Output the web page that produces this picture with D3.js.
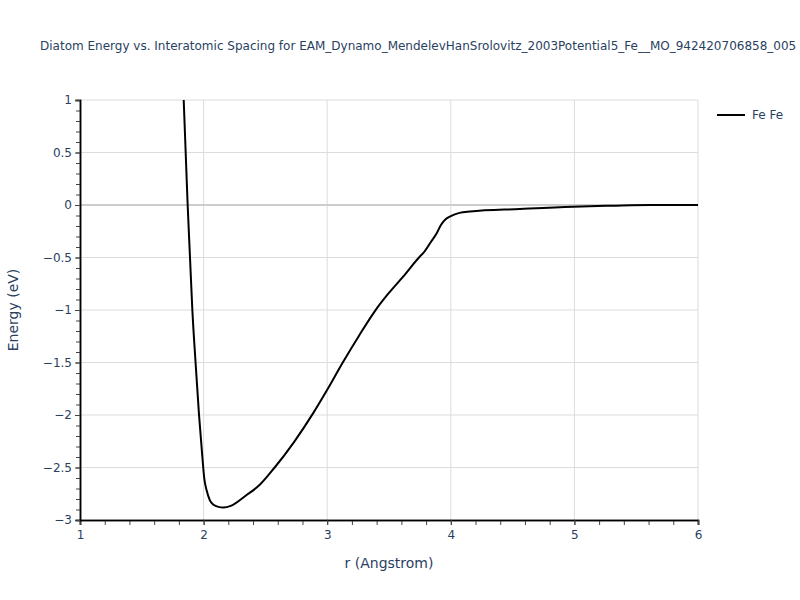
<!DOCTYPE html>
<html>
<head>
<meta charset="utf-8">
<script src="https://cdn.jsdelivr.net/npm/d3@7"></script>
<style>
  body { margin: 0; background: #fff; }
  svg { display: block; font-family: "DejaVu Sans", Verdana, sans-serif; }
</style>
</head>
<body>
<div id="chart"></div>
<script>
const titleText = "Diatom Energy vs. Interatomic Spacing for EAM_Dynamo_MendelevHanSrolovitz_2003Potential5_Fe__MO_942420706858_005";
const seriesName = "Fe Fe";
const rValues = [1.80, 1.839, 1.855, 1.871, 1.89, 1.909, 1.935, 1.963, 1.99, 2.005, 2.025, 2.05, 2.08, 2.12, 2.16, 2.22, 2.35, 2.45, 2.575, 2.73, 2.888, 3.0, 3.126, 3.26, 3.386, 3.494, 3.616, 3.75, 3.78, 3.84, 3.886, 3.92, 3.96, 4.0, 4.07, 4.155, 4.56, 4.99, 5.3, 5.61, 6.0];
const energyValues = [2.3, 1.0, 0.5, 0.0, -0.5, -1.0, -1.5, -2.0, -2.4, -2.6, -2.72, -2.81, -2.855, -2.875, -2.88, -2.865, -2.76, -2.67, -2.50, -2.26, -1.98, -1.76, -1.50, -1.24, -1.01, -0.845, -0.68, -0.49, -0.454, -0.35, -0.27, -0.19, -0.133, -0.105, -0.075, -0.062, -0.038, -0.016, -0.007, 0.0, 0.0];
const xTicks = [1, 2, 3, 4, 5, 6];
const yTicks = [1, 0.5, 0, -0.5, -1, -1.5, -2, -2.5, -3];
const xDomain = [1, 6];
const yDomain = [-3, 1];

const W = 800, H = 600;
const M = { left: 80, right: 102, top: 100, bottom: 80 };
const textColor = "#2a3f5f";
const FONT = "'DejaVu Sans', Verdana, sans-serif";

const svg = d3.select("#chart").append("svg").attr("width", W).attr("height", H);

const x = d3.scaleLinear().domain(xDomain).range([M.left, W - M.right]);
const y = d3.scaleLinear().domain(yDomain).range([H - M.bottom, M.top]);

// grid
const grid = svg.append("g");
grid.selectAll("line.vg").data(xTicks.filter(d => d !== xDomain[0])).enter().append("line")
  .attr("x1", d => x(d)).attr("x2", d => x(d)).attr("y1", y(yDomain[0])).attr("y2", y(yDomain[1]))
  .attr("stroke", "#dcdcdc").attr("stroke-width", 1);
grid.selectAll("line.hg").data(yTicks.filter(d => d !== 0 && d !== yDomain[0])).enter().append("line")
  .attr("x1", x(xDomain[0])).attr("x2", x(xDomain[1])).attr("y1", d => y(d)).attr("y2", d => y(d))
  .attr("stroke", "#dcdcdc").attr("stroke-width", 1);
grid.append("line")
  .attr("x1", x(xDomain[0])).attr("x2", x(xDomain[1])).attr("y1", y(0)).attr("y2", y(0))
  .attr("stroke", "#cccccc").attr("stroke-width", 2);

// clip
svg.append("clipPath").attr("id", "clip").append("rect")
  .attr("x", M.left).attr("y", M.top).attr("width", W - M.left - M.right).attr("height", H - M.top - M.bottom);

const data = rValues.map((r, i) => [r, energyValues[i]]);
const line = d3.line().x(d => x(d[0])).y(d => y(d[1])).curve(d3.curveMonotoneX);
svg.append("path").datum(data).attr("clip-path", "url(#clip)")
  .attr("d", line).attr("fill", "none").attr("stroke", "#000").attr("stroke-width", 2)
  .attr("stroke-linejoin", "round");

// x axis
const xMinor = d3.range(10, 61, 2).map(v => v / 10);
const xAxisG = svg.append("g").attr("transform", `translate(0,${y(yDomain[0])})`);
xAxisG.call(d3.axisBottom(x).tickValues(xMinor).tickSize(5).tickFormat(""));
xAxisG.append("g").call(d3.axisBottom(x).tickValues(xTicks).tickSize(5).tickFormat(d3.format("d")));
xAxisG.selectAll(".domain").attr("stroke", "#000").attr("stroke-width", 1.5);
xAxisG.selectAll(".tick line").attr("stroke", "#444");
xAxisG.selectAll("text").attr("fill", textColor).attr("font-size", 12).attr("dy", "0.9em")
  .attr("font-family", FONT);

// y axis
const yMinor = d3.range(-30, 11, 1).map(v => v / 10);
const yAxisG = svg.append("g").attr("transform", `translate(${x(xDomain[0])},0)`);
yAxisG.call(d3.axisLeft(y).tickValues(yMinor).tickSize(4).tickFormat(""));
yAxisG.append("g").call(d3.axisLeft(y).tickValues(yTicks).tickSize(5).tickFormat(d3.format("")));
yAxisG.selectAll(".domain").attr("stroke", "#000").attr("stroke-width", 1.5);
yAxisG.selectAll(".tick line").attr("stroke", "#444");
yAxisG.selectAll("text").attr("fill", textColor).attr("font-size", 12)
  .attr("font-family", FONT);

// titles
svg.append("text").attr("x", 40).attr("y", 50).text(titleText)
  .attr("fill", textColor).attr("font-size", 12);
svg.append("text").attr("x", (M.left + W - M.right) / 2).attr("y", 568).attr("text-anchor", "middle")
  .text("r (Angstrom)").attr("fill", textColor).attr("font-size", 14);
svg.append("text").attr("transform", `translate(18,${(M.top + H - M.bottom) / 2}) rotate(-90)`)
  .attr("text-anchor", "middle").text("Energy (eV)").attr("fill", textColor).attr("font-size", 14);

// legend
const lg = svg.append("g").attr("transform", "translate(717,115)");
lg.append("line").attr("x1", 0).attr("x2", 28).attr("y1", 0).attr("y2", 0).attr("stroke", "#000").attr("stroke-width", 2);
lg.append("text").attr("x", 35).attr("y", 4).text(seriesName).attr("fill", textColor).attr("font-size", 12);
</script>
</body>
</html>
